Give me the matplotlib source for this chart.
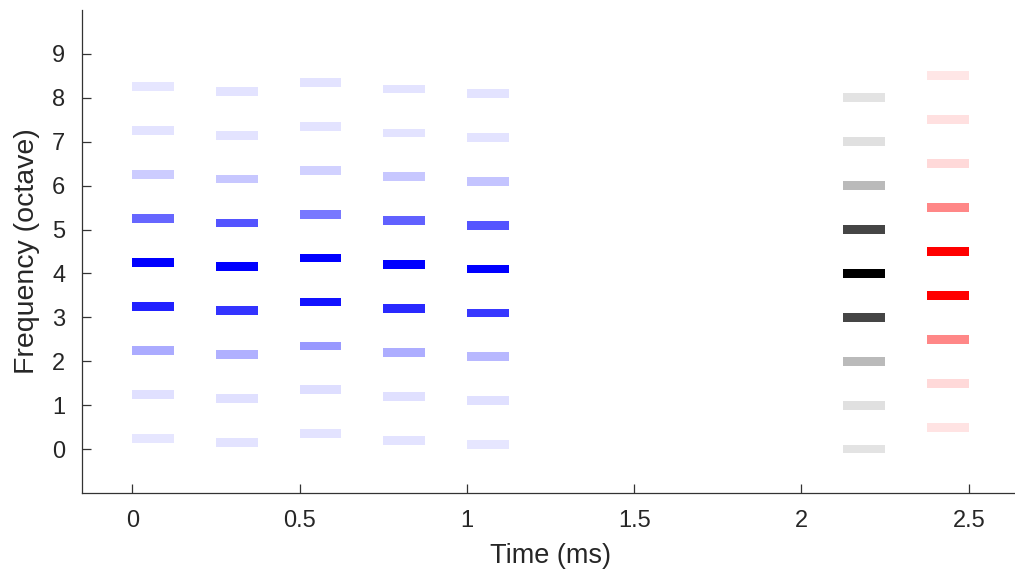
import matplotlib
matplotlib.use("Agg")
import matplotlib.pyplot as plt
import numpy as np

plt.rcParams['font.family'] = ['Liberation Sans', 'DejaVu Sans']

# onset times (ms) of the five blue frames, and the gray / red reference frames
blue_times = [0.0, 0.25, 0.5, 0.75, 1.0]
blue_offsets = [0.25, 0.15, 0.35, 0.2, 0.1]
# amplitude of partials 0..8 (bottom to top) for each blue frame
blue_amps = [
    [0.10, 0.12, 0.33, 0.87, 1.00, 0.60, 0.20, 0.11, 0.10],
    [0.11, 0.12, 0.31, 0.80, 1.00, 0.67, 0.22, 0.11, 0.11],
    [0.11, 0.13, 0.40, 0.93, 1.00, 0.53, 0.18, 0.11, 0.11],
    [0.11, 0.12, 0.32, 0.84, 1.00, 0.62, 0.22, 0.11, 0.11],
    [0.10, 0.12, 0.28, 0.78, 1.00, 0.67, 0.23, 0.11, 0.11],
]
gray_time = 2.125
gray_freqs = [0, 1, 2, 3, 4, 5, 6, 7, 8]
gray_amps = [0.11, 0.12, 0.27, 0.73, 1.00, 0.73, 0.27, 0.12, 0.11]
red_time = 2.375
red_freqs = [0.5, 1.5, 2.5, 3.5, 4.5, 5.5, 6.5, 7.5, 8.5]
red_amps = [0.11, 0.15, 0.47, 1.00, 1.00, 0.47, 0.15, 0.12, 0.10]

bar_len = 0.125
bar_h = 0.2


def shade(base, a):
    base = np.array(base, dtype=float)
    return tuple((1 - a) * np.ones(3) + a * base)


fig = plt.figure(figsize=(10.15, 5.70), dpi=100)
ax = fig.add_axes([82 / 1015, 77 / 570, 937 / 1015, 483 / 570])

for t, off, amps in zip(blue_times, blue_offsets, blue_amps):
    ys = np.arange(len(amps)) + off
    ax.barh(ys, bar_len, left=t, height=bar_h, align='center',
            color=[shade((0, 0, 1), a) for a in amps], linewidth=0)

ax.barh(gray_freqs, bar_len, left=gray_time, height=bar_h,
        color=[shade((0, 0, 0), a) for a in gray_amps], linewidth=0)
ax.barh(red_freqs, bar_len, left=red_time, height=bar_h,
        color=[shade((1, 0, 0), a) for a in red_amps], linewidth=0)

ax.set_xlim(-0.15, 2.65)
ax.set_ylim(-1, 10)
ax.set_xticks([0, 0.5, 1, 1.5, 2, 2.5])
ax.set_xticklabels(['0', '0.5', '1', '1.5', '2', '2.5'])
ax.set_yticks(range(10))

for s in ['top', 'right']:
    ax.spines[s].set_visible(False)
for s in ['left', 'bottom']:
    ax.spines[s].set_color('#333333')
    ax.spines[s].set_linewidth(0.9)

ax.tick_params(direction='in', length=6.5, width=0.9, color='#333333',
               labelsize=17, labelcolor='#262626')
ax.tick_params(axis='x', pad=12)
ax.tick_params(axis='y', pad=12)

ax.set_xlabel('Time (ms)', fontsize=19.5, color='#262626', labelpad=8)
ax.set_ylabel('Frequency (octave)', fontsize=20.5, color='#262626', labelpad=9)

fig.savefig('out.png', dpi=100)
